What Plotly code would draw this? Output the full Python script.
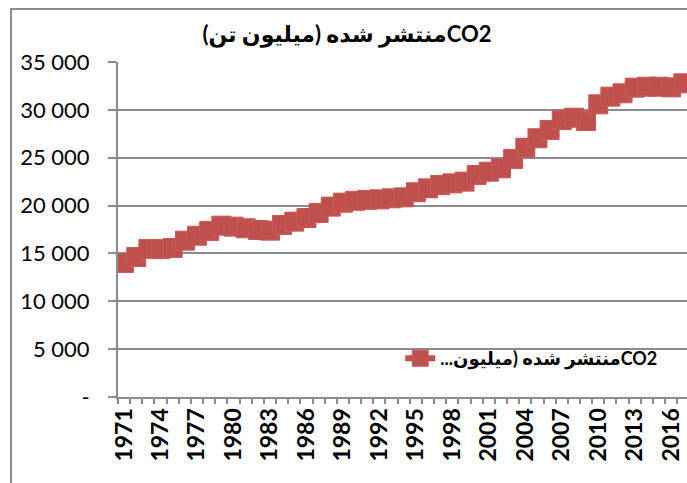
import plotly.graph_objects as go

years = [str(y) for y in range(1971, 2018)]
co2 = [14000, 14630, 15470, 15450, 15570, 16330, 16850, 17350, 17900, 17800,
       17630, 17450, 17380, 17970, 18320, 18700, 19230, 19890, 20300, 20500,
       20600, 20650, 20760, 20860, 21390, 21800, 22150, 22320, 22500, 23200,
       23540, 23890, 24870, 26050, 27030, 27900, 28940, 29180, 28840, 30580,
       31380, 31730, 32320, 32420, 32420, 32350, 32770]
y_tickvals = [0, 5000, 10000, 15000, 20000, 25000, 30000, 35000]
y_ticktext = ["-", "5 000", "10 000", "15 000", "20 000", "25 000", "30 000", "35 000"]
x_ticktext = [y if (int(y) - 1971) % 3 == 0 else "" for y in years]

series_name = "\u202bCO2منتشر شده (میلیون...\u202c"
title_text = "\u202bCO2منتشر شده (میلیون تن)\u202c"

RED = "#C0504D"
GRID = "#8C8C8C"
FONT = "Lato, DejaVu Sans, sans-serif"

fig = go.Figure()
fig.add_trace(go.Scatter(
    x=years, y=co2, mode="lines+markers", name=series_name,
    line=dict(color=RED, width=6),
    marker=dict(symbol="square", size=19, color=RED, line=dict(color="#C55A57", width=1)),
    showlegend=True,
))

fig.update_layout(
    width=687, height=483,
    margin=dict(l=118, r=0, t=62, b=86),
    paper_bgcolor="white", plot_bgcolor="white",
    title=dict(text=title_text, x=0.505, xref="container", xanchor="center",
               y=1 - 34 / 483, yref="container", yanchor="middle",
               font=dict(family=FONT, size=22, color="black", weight="bold")),
    legend=dict(x=0.496, y=0.115, xanchor="left", yanchor="middle",
                bgcolor="rgba(255,255,255,0)",
                font=dict(family=FONT, size=18, color="black", weight="bold")),
    xaxis=dict(type="category", range=[-0.5, 46.3], tickmode="array",
               tickvals=years, ticktext=x_ticktext, tickson="boundaries",
               ticks="outside", ticklen=5, tickwidth=1.5, tickcolor=GRID,
               showline=True, linecolor=GRID, linewidth=2, showgrid=False,
               tickangle=-90, automargin=False,
               tickfont=dict(family=FONT, size=23, color="black", weight="bold")),
    yaxis=dict(range=[0, 35000], tickmode="array", tickvals=y_tickvals,
               ticktext=y_ticktext, ticks="outside", ticklen=8, tickwidth=2,
               tickcolor=GRID, showline=True, linecolor=GRID, linewidth=2,
               showgrid=True, gridcolor=GRID, gridwidth=2, zeroline=False,
               ticklabelstandoff=14, automargin=False,
               tickfont=dict(family=FONT, size=22, color="black")),
    shapes=[dict(type="rect", xref="paper", yref="paper",
                 x0=(11 - 118) / 569, x1=1.05, y0=-0.5, y1=1 + (62 - 9) / 335,
                 line=dict(color=GRID, width=2), fillcolor="rgba(0,0,0,0)",
                 layer="above")],
)

fig.write_html("out.html", config={"displayModeBar": False},
               post_script="document.body.style.margin='0';")
